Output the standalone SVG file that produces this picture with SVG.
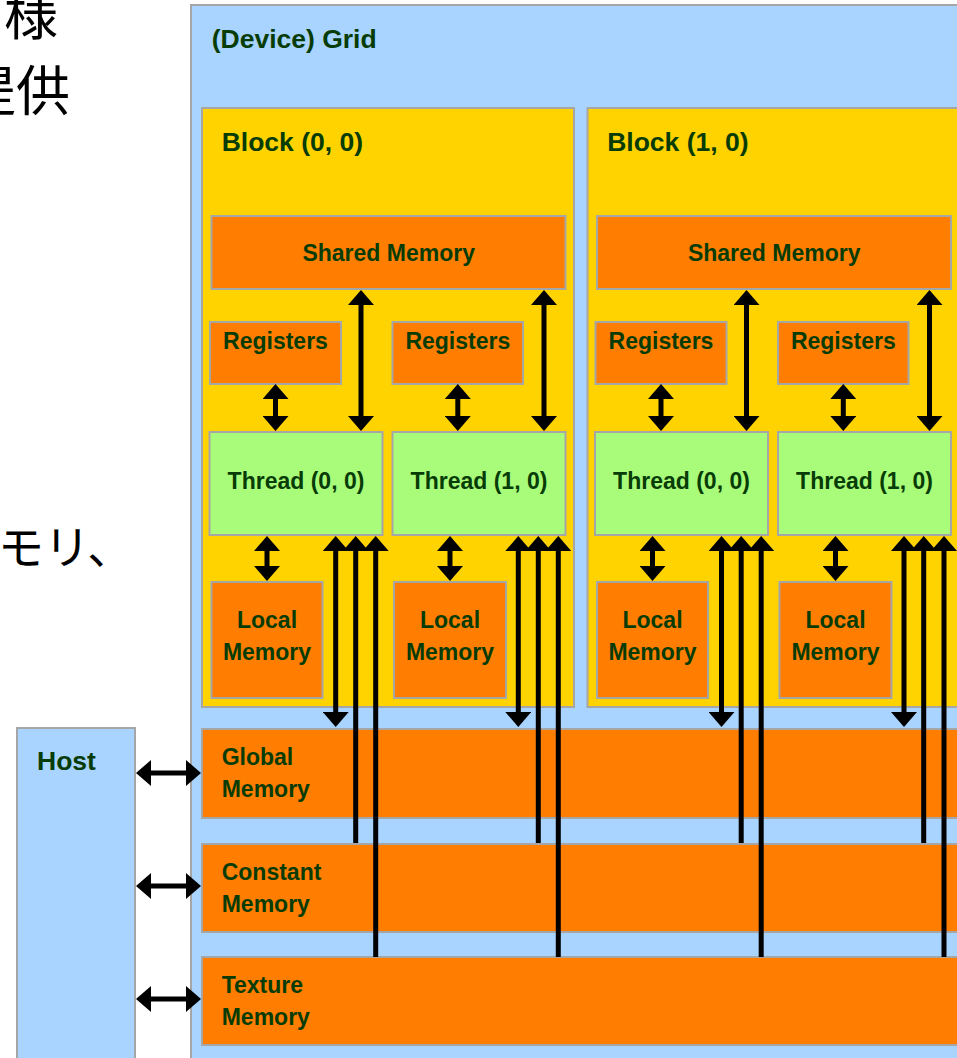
<svg xmlns="http://www.w3.org/2000/svg" width="957" height="1058" viewBox="0 0 957 1058">
<style>
.grid{fill:#A8D4FF;stroke:#A6A6A6;stroke-width:2}
.blk{fill:#FFD300;stroke:#A6A6A6;stroke-width:2}
.mem{fill:#FF7D00;stroke:#A6A6A6;stroke-width:2}
.thr{fill:#A9FB7A;stroke:#A6A6A6;stroke-width:2}
.t{font-family:"Liberation Sans",Arial,sans-serif;font-weight:bold;fill:#073C07;font-size:23px}
.big{font-size:26.5px}
.c{text-anchor:middle}
.jp{font-family:"Noto Sans CJK JP","Noto Sans CJK SC",sans-serif;font-size:54px;fill:#000}
.jp3{font-size:46px}
.ln{stroke:#000;stroke-width:5;fill:none}
.a2{marker-start:url(#head);marker-end:url(#head)}
.a1{marker-start:url(#head)}
</style>
<defs>
<marker id="head" markerUnits="userSpaceOnUse" viewBox="0 -13 15 26" refX="0" refY="0" markerWidth="15" markerHeight="26" orient="auto-start-reverse">
<path d="M0,-13 L15,0 L0,13 Z" fill="#000"/>
</marker>
</defs>

<g id="slide-text">
<text class="jp" x="58" y="35" text-anchor="end">様</text>
<text class="jp" x="70" y="111" text-anchor="end">提供</text>
<text class="jp jp3" x="-2" y="564">モリ、</text>
</g>

<g id="grid">
<rect class="grid" x="191" y="5" width="820" height="1100"/>
<text class="t big" x="211.7" y="47.7">(Device) Grid</text>
</g>

<g id="host">
<rect class="grid" x="17" y="728" width="118" height="400"/>
<text class="t big" x="37" y="770">Host</text>
</g>

<g id="block-0-0">
<rect class="blk" x="202" y="108" width="372" height="599"/>
<text class="t big" x="221.7" y="150.7">Block (0, 0)</text>
</g>
<g id="shared-0">
<rect class="mem" x="211.5" y="216" width="354" height="73"/>
<text class="t c" x="388.7" y="261">Shared Memory</text>
</g>
<g id="registers-0-0">
<rect class="mem" x="210" y="322" width="131" height="62"/>
<text class="t c" x="275.5" y="349">Registers</text>
</g>
<g id="registers-0-1">
<rect class="mem" x="392.5" y="322" width="130.5" height="62"/>
<text class="t c" x="457.8" y="349">Registers</text>
</g>
<g id="thread-0-0">
<rect class="thr" x="209.5" y="432" width="173" height="103"/>
<text class="t c" x="296" y="489">Thread (0, 0)</text>
</g>
<g id="thread-0-1">
<rect class="thr" x="392.5" y="432" width="173" height="103"/>
<text class="t c" x="479" y="489">Thread (1, 0)</text>
</g>
<g id="local-0-0">
<rect class="mem" x="211.5" y="582" width="111" height="116"/>
<text class="t c" x="267" y="628">Local</text>
<text class="t c" x="267" y="660">Memory</text>
</g>
<g id="local-0-1">
<rect class="mem" x="394" y="582" width="112" height="116"/>
<text class="t c" x="450" y="628">Local</text>
<text class="t c" x="450" y="660">Memory</text>
</g>

<g id="block-1-0">
<rect class="blk" x="587.5" y="108" width="400" height="599"/>
<text class="t big" x="607.2" y="150.7">Block (1, 0)</text>
</g>
<g id="shared-1">
<rect class="mem" x="597" y="216" width="354" height="73"/>
<text class="t c" x="774.2" y="261">Shared Memory</text>
</g>
<g id="registers-1-0">
<rect class="mem" x="595.5" y="322" width="131" height="62"/>
<text class="t c" x="661" y="349">Registers</text>
</g>
<g id="registers-1-1">
<rect class="mem" x="778" y="322" width="130.5" height="62"/>
<text class="t c" x="843.3" y="349">Registers</text>
</g>
<g id="thread-1-0">
<rect class="thr" x="595" y="432" width="173" height="103"/>
<text class="t c" x="681.5" y="489">Thread (0, 0)</text>
</g>
<g id="thread-1-1">
<rect class="thr" x="778" y="432" width="173" height="103"/>
<text class="t c" x="864.5" y="489">Thread (1, 0)</text>
</g>
<g id="local-1-0">
<rect class="mem" x="597" y="582" width="111" height="116"/>
<text class="t c" x="652.5" y="628">Local</text>
<text class="t c" x="652.5" y="660">Memory</text>
</g>
<g id="local-1-1">
<rect class="mem" x="779.5" y="582" width="112" height="116"/>
<text class="t c" x="835.5" y="628">Local</text>
<text class="t c" x="835.5" y="660">Memory</text>
</g>

<g id="global-memory">
<rect class="mem" x="202" y="729" width="800" height="89"/>
<text class="t" x="221.7" y="765">Global</text>
<text class="t" x="221.7" y="797">Memory</text>
</g>
<g id="constant-memory">
<rect class="mem" x="202" y="844" width="800" height="88"/>
<text class="t" x="221.7" y="880">Constant</text>
<text class="t" x="221.7" y="912">Memory</text>
</g>
<g id="texture-memory">
<rect class="mem" x="202" y="957" width="800" height="88"/>
<text class="t" x="221.7" y="993">Texture</text>
<text class="t" x="221.7" y="1025">Memory</text>
</g>

<g id="connectors">
<!-- block 0 -->
<line class="ln a2" x1="275.5" y1="399" x2="275.5" y2="416"/>
<line class="ln a2" x1="457.8" y1="399" x2="457.8" y2="416"/>
<line class="ln a2" x1="361" y1="305" x2="361" y2="416"/>
<line class="ln a2" x1="544" y1="305" x2="544" y2="416"/>
<line class="ln a2" x1="267" y1="551" x2="267" y2="566"/>
<line class="ln a2" x1="450" y1="551" x2="450" y2="566"/>
<line class="ln a2" x1="335.7" y1="551" x2="335.7" y2="712"/>
<line class="ln a2" x1="518.3" y1="551" x2="518.3" y2="712"/>
<line class="ln a1" x1="355.7" y1="551" x2="355.7" y2="843"/>
<line class="ln a1" x1="538.3" y1="551" x2="538.3" y2="843"/>
<line class="ln a1" x1="375.7" y1="551" x2="375.7" y2="957"/>
<line class="ln a1" x1="558.3" y1="551" x2="558.3" y2="957"/>
<!-- block 1 -->
<line class="ln a2" x1="661" y1="399" x2="661" y2="416"/>
<line class="ln a2" x1="843.3" y1="399" x2="843.3" y2="416"/>
<line class="ln a2" x1="746.5" y1="305" x2="746.5" y2="416"/>
<line class="ln a2" x1="929.5" y1="305" x2="929.5" y2="416"/>
<line class="ln a2" x1="652.5" y1="551" x2="652.5" y2="566"/>
<line class="ln a2" x1="835.5" y1="551" x2="835.5" y2="566"/>
<line class="ln a2" x1="721.5" y1="551" x2="721.5" y2="712"/>
<line class="ln a2" x1="904" y1="551" x2="904" y2="712"/>
<line class="ln a1" x1="741.2" y1="551" x2="741.2" y2="843"/>
<line class="ln a1" x1="923.7" y1="551" x2="923.7" y2="843"/>
<line class="ln a1" x1="761.2" y1="551" x2="761.2" y2="957"/>
<line class="ln a1" x1="944" y1="551" x2="944" y2="957"/>
<!-- host -->
<line class="ln a2" x1="151" y1="773" x2="186" y2="773"/>
<line class="ln a2" x1="151" y1="886" x2="186" y2="886"/>
<line class="ln a2" x1="151" y1="999" x2="186" y2="999"/>
</g>
</svg>
